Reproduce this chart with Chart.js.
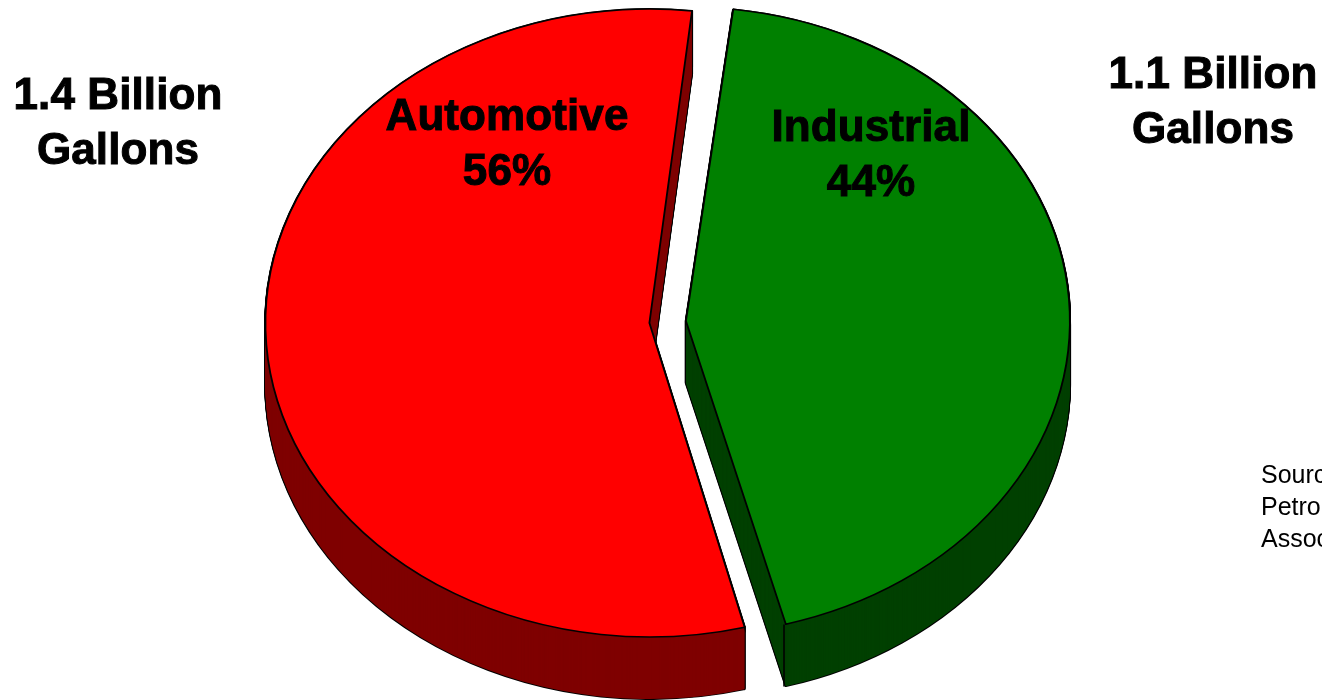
<!DOCTYPE html>
<html>
<head>
<meta charset="utf-8">
<script src="https://cdn.jsdelivr.net/npm/chart.js@4"></script>
<style>
  html, body { margin: 0; padding: 0; width: 1322px; height: 700px; overflow: hidden; background: #fff; }
  #myChart { position: absolute; left: 0; top: 0; }
  .note { position: absolute; font-family: "Liberation Sans", Arial, sans-serif; color: #000; white-space: nowrap; }
  .big { font-size: 44px; font-weight: bold; line-height: 55px; text-align: center; -webkit-text-stroke: 1px #000; letter-spacing: 0.1px; transform: translateX(-50%); }
  .source { font-size: 25px; line-height: 32px; }
</style>
</head>
<body>
<canvas id="myChart" width="1322" height="700"></canvas>
<script>
const categories = ['Industrial', 'Automotive'];
const shares = [44, 56];
const volumes = ['1.1 Billion', '1.4 Billion'];
const volumeUnit = 'Gallons';
const sourceLines = ['Source:', 'Petroleum', 'Association'];

const topColors = ['#008000', '#ff0000'];
const wallColors = ['#004000', '#7f0000'];

// the pie is squashed to an ellipse and pushed down for the 3D look
const pie = { x: 667.5, y: 322, rx: 384, ry: 314, depth: 62 };

// chart.js grows the drawn radius by part of the offset shift, same sum as ArcElement.draw
function rimOf(arc) {
  const fix = 1 - Math.sin(Math.min(Math.PI, arc.circumference));
  return arc.outerRadius + arc.options.offset / 4 * fix;
}

function placePie(ctx, arc, dy) {
  ctx.translate(pie.x, pie.y + dy);
  ctx.scale(pie.rx / rimOf(arc), pie.ry / rimOf(arc));
  ctx.translate(-arc.x, -arc.y);
}

function ghostOf(arc, fill, width) {
  const ghost = Object.create(arc);
  ghost.options = Object.assign({}, arc.options, {
    backgroundColor: fill,
    borderColor: '#000',
    borderWidth: width,
    borderJoinStyle: 'round'
  });
  return ghost;
}

function drawAt(ctx, arc, dy) {
  ctx.save();
  placePie(ctx, arc, dy);
  arc.draw(ctx);
  ctx.restore();
}

const pie3d = {
  id: 'pie3d',
  beforeDatasetDraw(chart, args) {
    const ctx = chart.ctx;
    const arcs = args.meta.data;

    arcs.forEach((arc, i) => {
      // black silhouette first, then the wall colour on top of it
      const outline = ghostOf(arc, '#000', 2);
      const fill = ghostOf(arc, wallColors[i], 0);
      for (let dy = pie.depth; dy >= 0; dy--) drawAt(ctx, outline, dy);
      for (let dy = pie.depth; dy >= 0; dy--) drawAt(ctx, fill, dy);
    });

    // crease between the two walls of the slice facing the viewer
    const front = arcs[0];
    const half = (front.startAngle + front.endAngle) / 2;
    const push = front.options.offset / 4;
    const px = front.x + Math.cos(half) * push + Math.cos(front.endAngle) * rimOf(front);
    const py = front.y + Math.sin(half) * push + Math.sin(front.endAngle) * rimOf(front);
    ctx.save();
    placePie(ctx, front, 0);
    ctx.beginPath();
    ctx.moveTo(px, py);
    ctx.lineTo(px, py + pie.depth / (pie.ry / rimOf(front)));
    ctx.restore();
    ctx.lineWidth = 1.6;
    ctx.strokeStyle = '#000';
    ctx.stroke();

    arcs.forEach(arc => drawAt(ctx, arc, 0));
    return false;
  }
};

const myChart = new Chart(document.getElementById('myChart'), {
  type: 'pie',
  data: {
    labels: categories,
    datasets: [{
      data: shares,
      backgroundColor: topColors,
      borderColor: '#000',
      borderWidth: 1.6,
      borderJoinStyle: 'miter',
      offset: 63,
      clip: false
    }]
  },
  options: {
    responsive: false,
    animation: false,
    rotation: 6.8,
    plugins: {
      legend: { display: false },
      tooltip: { enabled: false }
    }
  },
  plugins: [pie3d]
});

function addNote(className, lines, left, top) {
  const div = document.createElement('div');
  div.className = 'note ' + className;
  div.style.left = left + 'px';
  div.style.top = top + 'px';
  div.innerHTML = lines.join('<br>');
  document.body.appendChild(div);
}

addNote('big', [categories[1], shares[1] + '%'], 507, 87);
addNote('big', [categories[0], shares[0] + '%'], 871, 98);
addNote('big', [volumes[1], volumeUnit], 118, 66);
addNote('big', [volumes[0], volumeUnit], 1213, 45);
addNote('source', sourceLines, 1261, 458);
</script>
</body>
</html>
